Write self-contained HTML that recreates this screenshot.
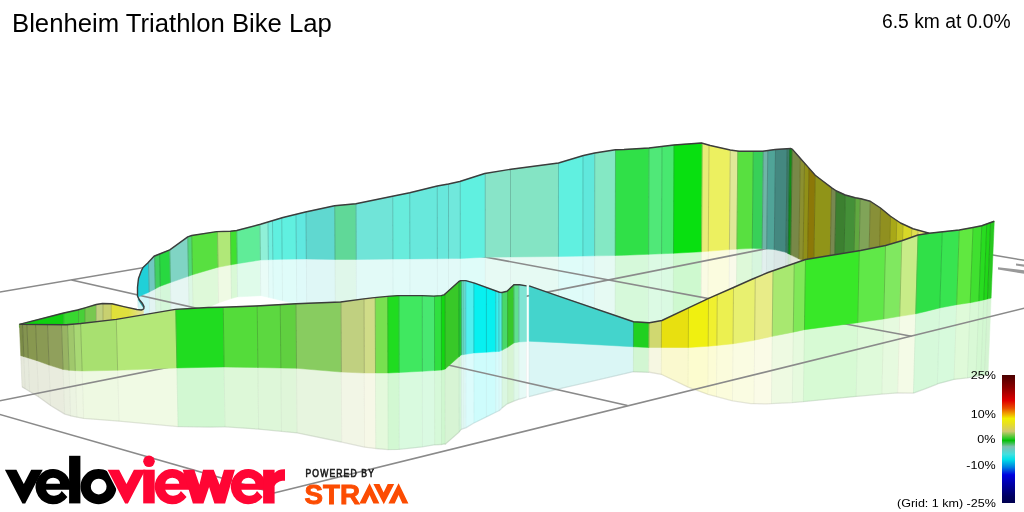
<!DOCTYPE html>
<html>
<head>
<meta charset="utf-8">
<title>Blenheim Triathlon Bike Lap</title>
<style>
html,body{margin:0;padding:0;background:#fff;}
body{width:1024px;height:512px;overflow:hidden;position:relative;font-family:"Liberation Sans",sans-serif;}
#chart{position:absolute;left:0;top:0;width:1024px;height:512px;will-change:transform;}
#title{position:absolute;left:12px;top:8px;will-change:transform;font-size:25.7px;line-height:30px;color:#000;white-space:nowrap;}
#stat{position:absolute;right:13.3px;top:11px;will-change:transform;font-size:19.3px;line-height:22px;color:#000;white-space:nowrap;}
.lg{position:absolute;right:28.6px;font-size:11.4px;line-height:12px;height:12px;transform:scaleX(1.10);transform-origin:100% 50%;color:#000;white-space:nowrap;text-align:right;}
#bar{position:absolute;left:1002px;top:375px;width:13px;height:128px;
background:linear-gradient(to bottom,#4a0000 0%,#8c0000 10%,#e00000 20%,#e85000 26%,#f0a000 30%,#f0f000 34%,#e8e020 38%,#d0c870 44%,#20c820 50%,#00c000 51%,#80c0b0 56%,#40e0e0 62%,#00e0e8 66%,#0080e0 72%,#0000e0 78%,#0000b0 84%,#000060 95%,#000050 100%);}
</style>
</head>
<body>
<svg id="chart" width="1024" height="512" viewBox="0 0 1024 512">
<defs><linearGradient id="ytip" gradientUnits="userSpaceOnUse" x1="111" y1="0" x2="143" y2="0"><stop offset="0" stop-color="#e0e038"/><stop offset="0.55" stop-color="#e0e040"/><stop offset="1" stop-color="#e4e0a0"/></linearGradient></defs>
<g id="backref">
<polygon points="137.74,297.14 138.94,296.61 141.84,295.32 143.64,294.52 148.43,292.39 149.19,292.02 149.88,321.84 149.11,321.78 144.29,321.53 142.42,319.64 139.38,314.71 137.99,307.03" fill="#d2f6f7" stroke="#d2f6f7" stroke-width="0.5"/>
<polygon points="149.19,292.02 154.74,289.13 155.33,288.82 156.07,321.62 155.47,322.01 149.88,321.84" fill="#e2f4f2" stroke="#e2f4f2" stroke-width="0.5"/>
<polygon points="155.33,288.82 160.3,286.16 161,318.31 156.07,321.62" fill="#d9f6df" stroke="#d9f6df" stroke-width="0.5"/>
<polygon points="160.3,286.16 170.47,282.54 171.14,315.19 161,318.31" fill="#d4f7d9" stroke="#d4f7d9" stroke-width="0.5"/>
<polygon points="170.47,282.54 188.47,276.24 189.2,315.58 171.14,315.19" fill="#e6f6f3" stroke="#e6f6f3" stroke-width="0.5"/>
<polygon points="188.47,276.24 192.45,274.77 193.16,314.03 189.2,315.58" fill="#dcf7e4" stroke="#dcf7e4" stroke-width="0.5"/>
<polygon points="192.45,274.77 217.3,267.4 218.04,267.26 218.58,302.93 217.84,303.19 193.16,314.03" fill="#def9d9" stroke="#def9d9" stroke-width="0.5"/>
<polygon points="218.04,267.26 230.97,264.83 231.43,298.42 218.58,302.93" fill="#effae4" stroke="#effae4" stroke-width="0.5"/>
<polygon points="230.97,264.83 237.19,263.68 237.63,296.86 231.43,298.42" fill="#d9f9d6" stroke="#d9f9d6" stroke-width="0.5"/>
<polygon points="237.19,263.68 260.4,260.02 260.79,295.65 237.63,296.86" fill="#dffbea" stroke="#dffbea" stroke-width="0.5"/>
<polygon points="260.4,260.02 260.9,259.99 268.39,259.74 268.79,297.47 261.29,295.72 260.79,295.65" fill="#e9fcf7" stroke="#e9fcf7" stroke-width="0.5"/>
<polygon points="268.39,259.74 272.89,259.59 273.28,298.52 268.79,297.47" fill="#e2fcf9" stroke="#e2fcf9" stroke-width="0.5"/>
<polygon points="272.89,259.59 282.13,259.28 282.52,300.68 273.28,298.52" fill="#dffcf9" stroke="#dffcf9" stroke-width="0.5"/>
<polygon points="282.13,259.28 283.38,259.25 296.37,259.1 296.73,303.88 283.77,300.99 282.52,300.68" fill="#dffcf9" stroke="#dffcf9" stroke-width="0.5"/>
<polygon points="296.37,259.1 305.85,259.01 306.35,259.01 306.7,306.14 306.2,306.01 296.73,303.88" fill="#dffaf9" stroke="#dffaf9" stroke-width="0.5"/>
<polygon points="306.35,259.01 334.9,259.5 335.05,259.5 335.34,313.26 335.19,313.25 306.7,306.14" fill="#dff7f6" stroke="#dff7f6" stroke-width="0.5"/>
<polygon points="335.05,259.5 356.14,259.49 356.24,259.49 356.47,315.25 356.38,315.23 335.34,313.26" fill="#dff7ea" stroke="#dff7ea" stroke-width="0.5"/>
<polygon points="356.24,259.49 392.66,259.1 392.91,259.1 393.06,321.95 392.81,321.9 356.47,315.25" fill="#e2faf7" stroke="#e2faf7" stroke-width="0.5"/>
<polygon points="392.91,259.1 409.87,258.95 409.99,325.14 393.06,321.95" fill="#e1fbf8" stroke="#e1fbf8" stroke-width="0.5"/>
<polygon points="409.87,258.95 437.32,258.7 437.39,331.4 409.99,325.14" fill="#e1faf8" stroke="#e1faf8" stroke-width="0.5"/>
<polygon points="437.32,258.7 448.55,258.6 448.61,333.2 437.39,331.4" fill="#e1faf8" stroke="#e1faf8" stroke-width="0.5"/>
<polygon points="448.55,258.6 459.79,258.5 460.29,258.47 460.32,335.61 459.82,335.5 448.61,333.2" fill="#e2faf8" stroke="#e2faf8" stroke-width="0.5"/>
<polygon points="460.29,258.47 484.76,257.25 485.26,257.24 485.27,341.07 484.77,341 460.32,335.61" fill="#dffcf9" stroke="#dffcf9" stroke-width="0.5"/>
<polygon points="485.26,257.24 510.5,256.99 510.5,344.65 485.27,341.07" fill="#e7faf4" stroke="#e7faf4" stroke-width="0.5"/>
<polygon points="510.5,256.99 511,256.98 558.46,256.5 558.43,350 511,344.72 510.5,344.65" fill="#e6faf3" stroke="#e6faf3" stroke-width="0.5"/>
<polygon points="558.46,256.5 582.91,256.07 582.82,356.49 558.43,350" fill="#dffcf9" stroke="#dffcf9" stroke-width="0.5"/>
<polygon points="582.91,256.07 583.41,256.06 594.63,255.87 594.5,358.73 583.32,356.63 582.82,356.49" fill="#dffaf8" stroke="#dffaf8" stroke-width="0.5"/>
<polygon points="594.63,255.87 615.3,255.5 615.1,361.26 594.5,358.73" fill="#e6faf3" stroke="#e6faf3" stroke-width="0.5"/>
<polygon points="615.3,255.5 623.77,255.25 648.65,254.31 648.3,360.61 623.54,361 615.1,361.26" fill="#d6f9da" stroke="#d6f9da" stroke-width="0.5"/>
<polygon points="648.65,254.31 661.58,253.77 661.15,361.1 648.3,360.61" fill="#dcfae4" stroke="#dcfae4" stroke-width="0.5"/>
<polygon points="661.58,253.77 673.5,253.27 673.01,361.54 661.15,361.1" fill="#dafae2" stroke="#dafae2" stroke-width="0.5"/>
<polygon points="673.5,253.27 700.82,251.79 701.56,251.75 700.87,360.36 700.13,360.63 673.01,361.54" fill="#cef9cf" stroke="#cef9cf" stroke-width="0.5"/>
<polygon points="701.56,251.75 708.28,251.22 707.56,357.64 700.87,360.36" fill="#fafbe4" stroke="#fafbe4" stroke-width="0.5"/>
<polygon points="708.28,251.22 709.52,251.12 729.42,249.56 728.58,350.21 708.79,357.13 707.56,357.64" fill="#fbfcdf" stroke="#fbfcdf" stroke-width="0.5"/>
<polygon points="729.42,249.56 736.88,249.15 735.99,348.55 728.58,350.21" fill="#f9faea" stroke="#f9faea" stroke-width="0.5"/>
<polygon points="736.88,249.15 738.12,249.09 752.26,248.34 751.25,347.28 737.22,348.28 735.99,348.55" fill="#def9d9" stroke="#def9d9" stroke-width="0.5"/>
<polygon points="752.26,248.34 761.68,248.73 762.17,248.76 761.07,348.55 760.58,348.39 751.25,347.28" fill="#d7f6de" stroke="#d7f6de" stroke-width="0.5"/>
<polygon points="762.17,248.76 766.67,249.04 765.52,349.93 761.07,348.55" fill="#e2f0ee" stroke="#e2f0ee" stroke-width="0.5"/>
<polygon points="766.67,249.04 774.04,249.51 774.28,249.55 773.04,352.12 772.79,352.01 765.52,349.93" fill="#dcedea" stroke="#dcedea" stroke-width="0.5"/>
<polygon points="774.28,249.55 785.83,252.27 784.42,358.4 773.04,352.12" fill="#dae7e6" stroke="#dae7e6" stroke-width="0.5"/>
<polygon points="785.83,252.27 788.28,253.64 786.83,361.33 784.42,358.4" fill="#d8e5e1" stroke="#d8e5e1" stroke-width="0.5"/>
<polygon points="788.28,253.64 789.46,254.25 790.75,254.92 789.26,363.24 787.98,362.64 786.83,361.33" fill="#cfe8d1" stroke="#cfe8d1" stroke-width="0.5"/>
<polygon points="790.75,254.92 791.05,255.07 798.79,258.81 797.29,361.93 789.55,363.37 789.26,363.24" fill="#e4e7da" stroke="#e4e7da" stroke-width="0.5"/>
<polygon points="798.79,258.81 803.04,260.6 801.54,360.63 797.29,361.93" fill="#e8e9d6" stroke="#e8e9d6" stroke-width="0.5"/>
<polygon points="803.04,260.6 807.54,262.39 806.05,359.03 801.54,360.63" fill="#e9e9d1" stroke="#e9e9d1" stroke-width="0.5"/>
<polygon points="807.54,262.39 813.81,264.87 812.33,356.72 806.05,359.03" fill="#e8e4ce" stroke="#e8e4ce" stroke-width="0.5"/>
<polygon points="813.81,264.87 820.29,267.43 830.01,271.28 828.47,357.01 818.78,356.84 812.33,356.72" fill="#e9ead1" stroke="#e9ead1" stroke-width="0.5"/>
<polygon points="830.01,271.28 830.6,271.52 834.49,273.06 832.94,357.5 829.07,357.02 828.47,357.01" fill="#e4e7dc" stroke="#e4e7dc" stroke-width="0.5"/>
<polygon points="834.49,273.06 834.98,273.25 843.66,276.69 842.04,360.42 833.43,357.56 832.94,357.5" fill="#d8e6d6" stroke="#d8e6d6" stroke-width="0.5"/>
<polygon points="843.66,276.69 853.54,280.6 851.79,365.53 842.04,360.42" fill="#dae9d7" stroke="#dae9d7" stroke-width="0.5"/>
<polygon points="853.54,280.6 858.47,282.56 856.64,368.57 851.79,365.53" fill="#dfeed9" stroke="#dfeed9" stroke-width="0.5"/>
<polygon points="858.47,282.56 859.11,282.81 868.34,286.46 866.37,373.81 857.27,368.97 856.64,368.57" fill="#e6edde" stroke="#e6edde" stroke-width="0.5"/>
<polygon points="868.34,286.46 878.54,290.5 876.53,375.05 866.37,373.81" fill="#e7e9d7" stroke="#e7e9d7" stroke-width="0.5"/>
<polygon points="878.54,290.5 888.54,294.47 886.54,374.18 876.53,375.05" fill="#e9e9d2" stroke="#e9e9d2" stroke-width="0.5"/>
<polygon points="888.54,294.47 894.77,296.93 892.76,374.6 886.54,374.18" fill="#eeeed1" stroke="#eeeed1" stroke-width="0.5"/>
<polygon points="894.77,296.93 898.51,298.41 900.99,299.4 898.95,375.56 896.49,374.85 892.76,374.6" fill="#f2f2d2" stroke="#f2f2d2" stroke-width="0.5"/>
<polygon points="900.99,299.4 909.66,302.83 907.56,378.04 898.95,375.56" fill="#f7f7d4" stroke="#f7f7d4" stroke-width="0.5"/>
<polygon points="909.66,302.83 910.9,303.32 915.83,305.27 913.66,380.71 908.79,378.39 907.56,378.04" fill="#f9f9dc" stroke="#f9f9dc" stroke-width="0.5"/>
<polygon points="915.83,305.27 926.92,309.67 924.59,386.08 913.66,380.71" fill="#fafae2" stroke="#fafae2" stroke-width="0.5"/>
</g>
<g stroke="#000" stroke-opacity="0.06" stroke-width="0.8">
<line x1="137.74" y1="297.14" x2="137.99" y2="307.03"/>
<line x1="149.19" y1="292.02" x2="149.88" y2="321.84"/>
<line x1="155.33" y1="288.82" x2="156.07" y2="321.62"/>
<line x1="160.3" y1="286.16" x2="161" y2="318.31"/>
<line x1="170.47" y1="282.54" x2="171.14" y2="315.19"/>
<line x1="188.47" y1="276.24" x2="189.2" y2="315.58"/>
<line x1="192.45" y1="274.77" x2="193.16" y2="314.03"/>
<line x1="218.04" y1="267.26" x2="218.58" y2="302.93"/>
<line x1="230.97" y1="264.83" x2="231.43" y2="298.42"/>
<line x1="237.19" y1="263.68" x2="237.63" y2="296.86"/>
<line x1="260.4" y1="260.02" x2="260.79" y2="295.65"/>
<line x1="268.39" y1="259.74" x2="268.79" y2="297.47"/>
<line x1="272.89" y1="259.59" x2="273.28" y2="298.52"/>
<line x1="282.13" y1="259.28" x2="282.52" y2="300.68"/>
<line x1="296.37" y1="259.1" x2="296.73" y2="303.88"/>
<line x1="306.35" y1="259.01" x2="306.7" y2="306.14"/>
<line x1="335.05" y1="259.5" x2="335.34" y2="313.26"/>
<line x1="356.24" y1="259.49" x2="356.47" y2="315.25"/>
<line x1="392.91" y1="259.1" x2="393.06" y2="321.95"/>
<line x1="409.87" y1="258.95" x2="409.99" y2="325.14"/>
<line x1="437.32" y1="258.7" x2="437.39" y2="331.4"/>
<line x1="448.55" y1="258.6" x2="448.61" y2="333.2"/>
<line x1="460.29" y1="258.47" x2="460.32" y2="335.61"/>
<line x1="485.26" y1="257.24" x2="485.27" y2="341.07"/>
<line x1="510.5" y1="256.99" x2="510.5" y2="344.65"/>
<line x1="558.46" y1="256.5" x2="558.43" y2="350"/>
<line x1="582.91" y1="256.07" x2="582.82" y2="356.49"/>
<line x1="594.63" y1="255.87" x2="594.5" y2="358.73"/>
<line x1="615.3" y1="255.5" x2="615.1" y2="361.26"/>
<line x1="648.65" y1="254.31" x2="648.3" y2="360.61"/>
<line x1="661.58" y1="253.77" x2="661.15" y2="361.1"/>
<line x1="673.5" y1="253.27" x2="673.01" y2="361.54"/>
<line x1="701.56" y1="251.75" x2="700.87" y2="360.36"/>
<line x1="708.28" y1="251.22" x2="707.56" y2="357.64"/>
<line x1="729.42" y1="249.56" x2="728.58" y2="350.21"/>
<line x1="736.88" y1="249.15" x2="735.99" y2="348.55"/>
<line x1="752.26" y1="248.34" x2="751.25" y2="347.28"/>
<line x1="762.17" y1="248.76" x2="761.07" y2="348.55"/>
<line x1="766.67" y1="249.04" x2="765.52" y2="349.93"/>
<line x1="774.28" y1="249.55" x2="773.04" y2="352.12"/>
<line x1="785.83" y1="252.27" x2="784.42" y2="358.4"/>
<line x1="788.28" y1="253.64" x2="786.83" y2="361.33"/>
<line x1="790.75" y1="254.92" x2="789.26" y2="363.24"/>
</g>
<g id="frontref">
<polygon points="20.73,355.64 23.85,356.59 25.2,388.76 22.05,386.88" fill="#e5e8da" stroke="#e5e8da" stroke-width="0.5"/>
<polygon points="23.85,356.59 28.28,357.95 29.66,391.44 25.2,388.76" fill="#e6eadc" stroke="#e6eadc" stroke-width="0.5"/>
<polygon points="28.28,357.95 37.03,360.64 38.47,396.77 29.66,391.44" fill="#e7eadc" stroke="#e7eadc" stroke-width="0.5"/>
<polygon points="37.03,360.64 49.03,365.08 50.56,405.55 38.47,396.77" fill="#e8ebdd" stroke="#e8ebdd" stroke-width="0.5"/>
<polygon points="49.03,365.08 63.09,369.39 64.67,414.07 50.56,405.55" fill="#e9ecde" stroke="#e9ecde" stroke-width="0.5"/>
<polygon points="63.09,369.39 67.83,370.11 69.08,370.27 70.66,415.9 69.4,415.47 64.67,414.07" fill="#eaf0e0" stroke="#eaf0e0" stroke-width="0.5"/>
<polygon points="69.08,370.27 75.31,370.64 76.88,417.18 70.66,415.9" fill="#ecf4e2" stroke="#ecf4e2" stroke-width="0.5"/>
<polygon points="75.31,370.64 82.15,370.99 83.69,418.47 76.88,417.18" fill="#eef7e3" stroke="#eef7e3" stroke-width="0.5"/>
<polygon points="82.15,370.99 117.64,370.29 119.04,421.19 83.69,418.47" fill="#eef9e2" stroke="#eef9e2" stroke-width="0.5"/>
<polygon points="117.64,370.29 176.56,367.97 176.91,367.96 178.07,426.54 177.72,426.53 119.04,421.19" fill="#f0fae4" stroke="#f0fae4" stroke-width="0.5"/>
<polygon points="176.91,367.96 208.97,367.28 223.38,367.01 224.12,367.02 225,426.83 224.25,426.78 209.93,427.07 178.07,426.54" fill="#d2f8d2" stroke="#d2f8d2" stroke-width="0.5"/>
<polygon points="224.12,367.02 256.71,367.51 257.9,367.54 258.6,429.14 257.41,429.03 225,426.83" fill="#ddf8d8" stroke="#ddf8d8" stroke-width="0.5"/>
<polygon points="257.9,367.54 280.85,367.97 281.44,431.33 258.6,429.14" fill="#def7d9" stroke="#def7d9" stroke-width="0.5"/>
<polygon points="280.85,367.97 296.53,368.29 297.05,432.89 281.44,431.33" fill="#dff6d9" stroke="#dff6d9" stroke-width="0.5"/>
<polygon points="296.53,368.29 340.96,372 341.36,372.02 341.72,442.09 341.32,441.99 297.05,432.89" fill="#e7f5df" stroke="#e7f5df" stroke-width="0.5"/>
<polygon points="341.36,372.02 364.04,373 364.28,373 364.57,447.13 364.32,447.1 341.72,442.09" fill="#f2f6e6" stroke="#f2f6e6" stroke-width="0.5"/>
<polygon points="364.28,373 374.65,373 375.5,373 375.74,448.48 374.9,448.4 364.57,447.13" fill="#f6f8e7" stroke="#f6f8e7" stroke-width="0.5"/>
<polygon points="375.5,373 387.71,372.98 387.96,372.97 388.16,449.56 387.92,449.56 375.74,448.48" fill="#e4f9dc" stroke="#e4f9dc" stroke-width="0.5"/>
<polygon points="387.96,372.97 398.27,372.51 399.17,372.46 399.34,449.33 398.45,449.42 388.16,449.56" fill="#d2f8d2" stroke="#d2f8d2" stroke-width="0.5"/>
<polygon points="399.17,372.46 422.01,371.26 422.36,371.24 422.46,446.87 422.11,446.93 399.34,449.33" fill="#d9fadf" stroke="#d9fadf" stroke-width="0.5"/>
<polygon points="422.36,371.24 433.83,370.53 434.58,370.48 434.66,444.91 433.91,444.95 422.46,446.87" fill="#dafae2" stroke="#dafae2" stroke-width="0.5"/>
<polygon points="434.58,370.48 441.32,370.06 441.46,370.05 441.53,444.54 441.38,444.52 434.66,444.91" fill="#d6f9d9" stroke="#d6f9d9" stroke-width="0.5"/>
<polygon points="441.46,370.05 443.96,369.43 445.16,369.03 445.22,444.23 444.02,443.96 441.53,444.54" fill="#cff7cf" stroke="#cff7cf" stroke-width="0.5"/>
<polygon points="445.16,369.03 458.94,356.83 458.97,432.17 445.22,444.23" fill="#d7f4d4" stroke="#d7f4d4" stroke-width="0.5"/>
<polygon points="458.94,356.83 460.78,355.19 461.43,354.93 461.47,429.26 460.82,429.78 458.97,432.17" fill="#d2f4d6" stroke="#d2f4d6" stroke-width="0.5"/>
<polygon points="461.43,354.93 463.93,354.53 463.96,428.46 461.47,429.26" fill="#dff7f1" stroke="#dff7f1" stroke-width="0.5"/>
<polygon points="463.93,354.53 465.78,354.24 465.81,427.87 463.96,428.46" fill="#e2faf9" stroke="#e2faf9" stroke-width="0.5"/>
<polygon points="465.78,354.24 473.92,352.97 473.94,423.02 465.81,427.87" fill="#dcfcfc" stroke="#dcfcfc" stroke-width="0.5"/>
<polygon points="473.92,352.97 474.52,352.94 486.41,352.18 486.41,416.9 474.53,422.77 473.94,423.02" fill="#cefcfc" stroke="#cefcfc" stroke-width="0.5"/>
<polygon points="486.41,352.18 495.75,351.58 495.76,412.29 486.41,416.9" fill="#cefcfc" stroke="#cefcfc" stroke-width="0.5"/>
<polygon points="495.75,351.58 498.9,351.38 498.9,410.74 495.76,412.29" fill="#d7fcfc" stroke="#d7fcfc" stroke-width="0.5"/>
<polygon points="498.9,351.38 499.5,351.35 502,350.25 502,408 499.5,410.44 498.9,410.74" fill="#dcfafa" stroke="#dcfafa" stroke-width="0.5"/>
<polygon points="502,350.25 507,347.62 507.6,347.25 507.6,403.81 507,404 502,408" fill="#daf7e1" stroke="#daf7e1" stroke-width="0.5"/>
<polygon points="507.6,347.25 513.9,342.92 513.9,401.09 507.6,403.81" fill="#d7f4d4" stroke="#d7f4d4" stroke-width="0.5"/>
<polygon points="513.9,342.92 518.9,341.98 518.9,399.2 513.9,401.09" fill="#dff9e9" stroke="#dff9e9" stroke-width="0.5"/>
<polygon points="518.9,341.98 519.5,341.94 526.5,341.5 526.6,341.49 526.6,397.08 526.5,397.1 519.5,399.13 518.9,399.2" fill="#e6faf6" stroke="#e6faf6" stroke-width="0.5"/>
<polygon points="526.6,341.49 529.1,341.25 529.09,396.61 526.6,397.08" fill="#ffffff" stroke="#ffffff" stroke-width="0.5"/>
<polygon points="529.1,341.25 559.98,342.67 633.44,346.75 633.37,371.74 559.96,388.74 529.09,396.61" fill="#daf6f5" stroke="#daf6f5" stroke-width="0.5"/>
<polygon points="633.44,346.75 648.92,347.5 648.84,372.28 633.37,371.74" fill="#d2f6d2" stroke="#d2f6d2" stroke-width="0.5"/>
<polygon points="648.92,347.5 649.42,347.5 661.39,347.5 661.29,374.43 649.34,372.25 648.84,372.28" fill="#f6f7e2" stroke="#f6f7e2" stroke-width="0.5"/>
<polygon points="661.39,347.5 661.79,347.5 688.28,347.5 688.07,387.1 661.69,374.5 661.29,374.43" fill="#faf9cf" stroke="#faf9cf" stroke-width="0.5"/>
<polygon points="688.28,347.5 707.78,346.3 708.18,346.27 707.85,394.26 707.46,394.13 688.07,387.1" fill="#fcfccf" stroke="#fcfccf" stroke-width="0.5"/>
<polygon points="708.18,346.27 716.88,345.41 716.5,396.54 707.85,394.26" fill="#fcfcd6" stroke="#fcfcd6" stroke-width="0.5"/>
<polygon points="716.88,345.41 733.02,343.8 732.53,400.77 716.5,396.54" fill="#fbfcdc" stroke="#fbfcdc" stroke-width="0.5"/>
<polygon points="733.02,343.8 751.38,340.86 754.61,340.14 753.95,403.64 750.75,403.61 732.53,400.77" fill="#fafce2" stroke="#fafce2" stroke-width="0.5"/>
<polygon points="754.61,340.14 767.26,337.43 772.22,336.36 771.42,403.6 766.49,403.93 753.95,403.64" fill="#fafbe7" stroke="#fafbe7" stroke-width="0.5"/>
<polygon points="772.22,336.36 793.29,332.14 792.31,402.6 771.42,403.6" fill="#eefae2" stroke="#eefae2" stroke-width="0.5"/>
<polygon points="793.29,332.14 804.44,329.68 803.36,401.61 792.31,402.6" fill="#e6fade" stroke="#e6fade" stroke-width="0.5"/>
<polygon points="804.44,329.68 857.73,322.66 856.18,396.42 803.36,401.61" fill="#d7fad4" stroke="#d7fad4" stroke-width="0.5"/>
<polygon points="857.73,322.66 858.97,322.5 883.71,318.97 881.87,394.05 857.4,396.31 856.18,396.42" fill="#dffada" stroke="#dffada" stroke-width="0.5"/>
<polygon points="883.71,318.97 899.74,316.33 897.71,392.89 881.87,394.05" fill="#e6fadf" stroke="#e6fadf" stroke-width="0.5"/>
<polygon points="899.74,316.33 915.72,313.87 913.44,393.04 897.71,392.89" fill="#f4fbe7" stroke="#f4fbe7" stroke-width="0.5"/>
<polygon points="915.72,313.87 926.88,311.15 939.78,307.92 937.32,384.02 924.5,389.05 913.44,393.04" fill="#d6f9da" stroke="#d6f9da" stroke-width="0.5"/>
<polygon points="939.78,307.92 940.53,307.74 956.63,304.7 954.02,379.41 938.06,383.73 937.32,384.02" fill="#d7fadc" stroke="#d7fadc" stroke-width="0.5"/>
<polygon points="956.63,304.7 970.2,302.69 967.41,377.87 954.02,379.41" fill="#dffad9" stroke="#dffad9" stroke-width="0.5"/>
<polygon points="970.2,302.69 978.84,301.03 975.94,376.3 967.41,377.87" fill="#d9f9d6" stroke="#d9f9d6" stroke-width="0.5"/>
<polygon points="978.84,301.03 983.75,299.89 980.76,375.82 975.94,376.3" fill="#d4f8d2" stroke="#d4f8d2" stroke-width="0.5"/>
<polygon points="983.75,299.89 987.44,298.99 984.38,375.37 980.76,375.82" fill="#d2f7d1" stroke="#d2f7d1" stroke-width="0.5"/>
<polygon points="987.44,298.99 991.12,298.09 988,374.93 984.38,375.37" fill="#d4f4d2" stroke="#d4f4d2" stroke-width="0.5"/>
</g>
<g stroke="#000" stroke-opacity="0.06" stroke-width="0.8">
<line x1="20.73" y1="355.64" x2="22.05" y2="386.88"/>
<line x1="23.85" y1="356.59" x2="25.2" y2="388.76"/>
<line x1="28.28" y1="357.95" x2="29.66" y2="391.44"/>
<line x1="37.03" y1="360.64" x2="38.47" y2="396.77"/>
<line x1="49.03" y1="365.08" x2="50.56" y2="405.55"/>
<line x1="63.09" y1="369.39" x2="64.67" y2="414.07"/>
<line x1="69.08" y1="370.27" x2="70.66" y2="415.9"/>
<line x1="75.31" y1="370.64" x2="76.88" y2="417.18"/>
<line x1="82.15" y1="370.99" x2="83.69" y2="418.47"/>
<line x1="117.64" y1="370.29" x2="119.04" y2="421.19"/>
<line x1="176.91" y1="367.96" x2="178.07" y2="426.54"/>
<line x1="224.12" y1="367.02" x2="225" y2="426.83"/>
<line x1="257.9" y1="367.54" x2="258.6" y2="429.14"/>
<line x1="280.85" y1="367.97" x2="281.44" y2="431.33"/>
<line x1="296.53" y1="368.29" x2="297.05" y2="432.89"/>
<line x1="341.36" y1="372.02" x2="341.72" y2="442.09"/>
<line x1="364.28" y1="373" x2="364.57" y2="447.13"/>
<line x1="375.5" y1="373" x2="375.74" y2="448.48"/>
<line x1="387.96" y1="372.97" x2="388.16" y2="449.56"/>
<line x1="399.17" y1="372.46" x2="399.34" y2="449.33"/>
<line x1="422.36" y1="371.24" x2="422.46" y2="446.87"/>
<line x1="434.58" y1="370.48" x2="434.66" y2="444.91"/>
<line x1="441.46" y1="370.05" x2="441.53" y2="444.54"/>
<line x1="445.16" y1="369.03" x2="445.22" y2="444.23"/>
<line x1="458.94" y1="356.83" x2="458.97" y2="432.17"/>
<line x1="461.43" y1="354.93" x2="461.47" y2="429.26"/>
<line x1="463.93" y1="354.53" x2="463.96" y2="428.46"/>
<line x1="465.78" y1="354.24" x2="465.81" y2="427.87"/>
<line x1="473.92" y1="352.97" x2="473.94" y2="423.02"/>
<line x1="486.41" y1="352.18" x2="486.41" y2="416.9"/>
<line x1="495.75" y1="351.58" x2="495.76" y2="412.29"/>
<line x1="498.9" y1="351.38" x2="498.9" y2="410.74"/>
<line x1="502" y1="350.25" x2="502" y2="408"/>
<line x1="507.6" y1="347.25" x2="507.6" y2="403.81"/>
<line x1="513.9" y1="342.92" x2="513.9" y2="401.09"/>
<line x1="518.9" y1="341.98" x2="518.9" y2="399.2"/>
<line x1="526.6" y1="341.49" x2="526.6" y2="397.08"/>
<line x1="529.1" y1="341.25" x2="529.09" y2="396.61"/>
<line x1="633.44" y1="346.75" x2="633.37" y2="371.74"/>
<line x1="648.92" y1="347.5" x2="648.84" y2="372.28"/>
<line x1="661.39" y1="347.5" x2="661.29" y2="374.43"/>
<line x1="688.28" y1="347.5" x2="688.07" y2="387.1"/>
<line x1="708.18" y1="346.27" x2="707.85" y2="394.26"/>
<line x1="716.88" y1="345.41" x2="716.5" y2="396.54"/>
<line x1="733.02" y1="343.8" x2="732.53" y2="400.77"/>
<line x1="754.61" y1="340.14" x2="753.95" y2="403.64"/>
<line x1="772.22" y1="336.36" x2="771.42" y2="403.6"/>
<line x1="793.29" y1="332.14" x2="792.31" y2="402.6"/>
<line x1="804.44" y1="329.68" x2="803.36" y2="401.61"/>
<line x1="857.73" y1="322.66" x2="856.18" y2="396.42"/>
<line x1="883.71" y1="318.97" x2="881.87" y2="394.05"/>
<line x1="899.74" y1="316.33" x2="897.71" y2="392.89"/>
<line x1="915.72" y1="313.87" x2="913.44" y2="393.04"/>
<line x1="939.78" y1="307.92" x2="937.32" y2="384.02"/>
<line x1="956.63" y1="304.7" x2="954.02" y2="379.41"/>
<line x1="970.2" y1="302.69" x2="967.41" y2="377.87"/>
<line x1="978.84" y1="301.03" x2="975.94" y2="376.3"/>
<line x1="983.75" y1="299.89" x2="980.76" y2="375.82"/>
<line x1="987.44" y1="298.99" x2="984.38" y2="375.37"/>
</g>
<polyline points="22.05,386.88 25.2,388.76 29.66,391.44 38.47,396.77 50.56,405.55 64.67,414.07 69.4,415.47 70.66,415.9 76.88,417.18 83.69,418.47 119.04,421.19 177.72,426.53 178.07,426.54 209.93,427.07 224.25,426.78 225,426.83 257.41,429.03 258.6,429.14 281.44,431.33 297.05,432.89 341.32,441.99 341.72,442.09 364.32,447.1 364.57,447.13 374.9,448.4 375.74,448.48 387.92,449.56 388.16,449.56 398.45,449.42 399.34,449.33 422.11,446.93 422.46,446.87 433.91,444.95 434.66,444.91 441.38,444.52 441.53,444.54 444.02,443.96 445.22,444.23 458.97,432.17 460.82,429.78 461.47,429.26 463.96,428.46 465.81,427.87 473.94,423.02 474.53,422.77 486.41,416.9 495.76,412.29 498.9,410.74 499.5,410.44 502,408 507,404 507.6,403.81 513.9,401.09 518.9,399.2 519.5,399.13 526.5,397.1 526.6,397.08" fill="none" stroke="#3c3c3c" stroke-opacity="0.12" stroke-width="1.3" stroke-linejoin="round"/>
<polyline points="529.09,396.61 559.96,388.74 633.37,371.74 648.84,372.28 649.34,372.25 661.29,374.43 661.69,374.5 688.07,387.1 707.46,394.13 707.85,394.26 716.5,396.54 732.53,400.77 750.75,403.61 753.95,403.64 766.49,403.93 771.42,403.6 792.31,402.6 803.36,401.61 856.18,396.42 857.4,396.31 881.87,394.05 897.71,392.89 913.44,393.04 924.5,389.05 937.32,384.02 938.06,383.73 954.02,379.41 967.41,377.87 975.94,376.3 980.76,375.82 984.38,375.37 988,374.93" fill="none" stroke="#3c3c3c" stroke-opacity="0.12" stroke-width="1.3" stroke-linejoin="round"/>
<polygon points="526.6,285.9 529.1,285.9 529.1,341.25 526.6,341.49" fill="#ffffff" stroke="#ffffff" stroke-width="0.5"/>
<g stroke="#8a8a8a" stroke-width="1.6" fill="none" stroke-linecap="butt">
<line x1="-10" y1="293.7" x2="611" y2="188.3"/>
<line x1="-10" y1="402.7" x2="853" y2="231.4"/>
<line x1="274" y1="493" x2="1030" y2="306.8"/>
<line x1="-10" y1="411.6" x2="274" y2="493"/>
<line x1="71.5" y1="280" x2="627.5" y2="405.5"/>
<line x1="359.6" y1="233.7" x2="911.5" y2="336.25"/>
<line x1="611" y1="190.6" x2="1030" y2="261.3"/>
</g>
<polygon points="998,267.2 1024,270.2 1024,273.8 998,269.5" fill="#999"/>
<polygon points="1016,263.4 1024,264.5 1024,266.8 1016,265.5" fill="#999"/>
<g id="back">
<polygon points="137.5,287.25 138.5,278.5 141.25,271 143,267.5 147.75,263 148.5,262.19 149.19,292.02 148.43,292.39 143.64,294.52 141.84,295.32 138.94,296.61 137.74,297.14" fill="#20d0d8" stroke="#20d0d8" stroke-width="0.5"/>
<polygon points="148.5,262.19 154,256.25 154.6,256.01 155.33,288.82 154.74,289.13 149.19,292.02" fill="#70c8c0" stroke="#70c8c0" stroke-width="0.5"/>
<polygon points="154.6,256.01 159.6,254 160.3,286.16 155.33,288.82" fill="#40d060" stroke="#40d060" stroke-width="0.5"/>
<polygon points="159.6,254 169.8,249.9 170.47,282.54 160.3,286.16" fill="#28d840" stroke="#28d840" stroke-width="0.5"/>
<polygon points="169.8,249.9 187.75,236.9 188.47,276.24 170.47,282.54" fill="#80d4c4" stroke="#80d4c4" stroke-width="0.5"/>
<polygon points="187.75,236.9 191.75,235.5 192.45,274.77 188.47,276.24" fill="#50d878" stroke="#50d878" stroke-width="0.5"/>
<polygon points="191.75,235.5 216.75,231.6 217.5,231.58 218.04,267.26 217.3,267.4 192.45,274.77" fill="#58e040" stroke="#58e040" stroke-width="0.5"/>
<polygon points="217.5,231.58 230.5,231.25 230.97,264.83 218.04,267.26" fill="#b0e878" stroke="#b0e878" stroke-width="0.5"/>
<polygon points="230.5,231.25 236.75,230.5 237.19,263.68 230.97,264.83" fill="#40e030" stroke="#40e030" stroke-width="0.5"/>
<polygon points="236.75,230.5 260,224.38 260.4,260.02 237.19,263.68" fill="#60ec98" stroke="#60ec98" stroke-width="0.5"/>
<polygon points="260,224.38 260.5,224.25 268,222 268.39,259.74 260.9,259.99 260.4,260.02" fill="#90f0d8" stroke="#90f0d8" stroke-width="0.5"/>
<polygon points="268,222 272.5,220.65 272.89,259.59 268.39,259.74" fill="#70f0e0" stroke="#70f0e0" stroke-width="0.5"/>
<polygon points="272.5,220.65 281.75,217.88 282.13,259.28 272.89,259.59" fill="#60f0e0" stroke="#60f0e0" stroke-width="0.5"/>
<polygon points="281.75,217.88 283,217.5 296,214.32 296.37,259.1 283.38,259.25 282.13,259.28" fill="#60f0e0" stroke="#60f0e0" stroke-width="0.5"/>
<polygon points="296,214.32 305.5,212 306,211.89 306.35,259.01 305.85,259.01 296.37,259.1" fill="#60e8e0" stroke="#60e8e0" stroke-width="0.5"/>
<polygon points="306,211.89 334.6,205.75 334.75,205.74 335.05,259.5 334.9,259.5 306.35,259.01" fill="#60d8d0" stroke="#60d8d0" stroke-width="0.5"/>
<polygon points="334.75,205.74 355.9,203.75 356,203.73 356.24,259.49 356.14,259.49 335.05,259.5" fill="#60d898" stroke="#60d898" stroke-width="0.5"/>
<polygon points="356,203.73 392.5,196.3 392.75,196.25 392.91,259.1 392.66,259.1 356.24,259.49" fill="#70e4d8" stroke="#70e4d8" stroke-width="0.5"/>
<polygon points="392.75,196.25 409.75,192.75 409.87,258.95 392.91,259.1" fill="#68ecdc" stroke="#68ecdc" stroke-width="0.5"/>
<polygon points="409.75,192.75 437.25,186 437.32,258.7 409.87,258.95" fill="#68e8dc" stroke="#68e8dc" stroke-width="0.5"/>
<polygon points="437.25,186 448.5,184 448.55,258.6 437.32,258.7" fill="#68e8dc" stroke="#68e8dc" stroke-width="0.5"/>
<polygon points="448.5,184 459.75,181.5 460.25,181.34 460.29,258.47 459.79,258.5 448.55,258.6" fill="#70e8dc" stroke="#70e8dc" stroke-width="0.5"/>
<polygon points="460.25,181.34 484.75,173.5 485.25,173.42 485.26,257.24 484.76,257.25 460.29,258.47" fill="#60f0e0" stroke="#60f0e0" stroke-width="0.5"/>
<polygon points="485.25,173.42 510.5,169.33 510.5,256.99 485.26,257.24" fill="#88e4c8" stroke="#88e4c8" stroke-width="0.5"/>
<polygon points="510.5,169.33 511,169.25 558.5,163 558.46,256.5 511,256.98 510.5,256.99" fill="#84e4c4" stroke="#84e4c4" stroke-width="0.5"/>
<polygon points="558.5,163 583,155.65 582.91,256.07 558.46,256.5" fill="#60f0e0" stroke="#60f0e0" stroke-width="0.5"/>
<polygon points="583,155.65 583.5,155.5 594.75,153 594.63,255.87 583.41,256.06 582.91,256.07" fill="#60e8dc" stroke="#60e8dc" stroke-width="0.5"/>
<polygon points="594.75,153 615.5,149.75 615.3,255.5 594.63,255.87" fill="#84e8c4" stroke="#84e8c4" stroke-width="0.5"/>
<polygon points="615.5,149.75 624,149.5 649,148 648.65,254.31 623.77,255.25 615.3,255.5" fill="#30e048" stroke="#30e048" stroke-width="0.5"/>
<polygon points="649,148 662,146.44 661.58,253.77 648.65,254.31" fill="#50e878" stroke="#50e878" stroke-width="0.5"/>
<polygon points="662,146.44 674,145 673.5,253.27 661.58,253.77" fill="#48e870" stroke="#48e870" stroke-width="0.5"/>
<polygon points="674,145 701.5,143 702.25,143.21 701.56,251.75 700.82,251.79 673.5,253.27" fill="#08e010" stroke="#08e010" stroke-width="0.5"/>
<polygon points="702.25,143.21 709,145.14 708.28,251.22 701.56,251.75" fill="#e8ec78" stroke="#e8ec78" stroke-width="0.5"/>
<polygon points="709,145.14 710.25,145.5 730.25,150 729.42,249.56 709.52,251.12 708.28,251.22" fill="#ecf060" stroke="#ecf060" stroke-width="0.5"/>
<polygon points="730.25,150 737.75,151.07 736.88,249.15 729.42,249.56" fill="#e0e898" stroke="#e0e898" stroke-width="0.5"/>
<polygon points="737.75,151.07 739,151.25 753.25,151.25 752.26,248.34 738.12,249.09 736.88,249.15" fill="#58e040" stroke="#58e040" stroke-width="0.5"/>
<polygon points="753.25,151.25 762.75,151.25 763.25,151.18 762.17,248.76 761.68,248.73 752.26,248.34" fill="#38d058" stroke="#38d058" stroke-width="0.5"/>
<polygon points="763.25,151.18 767.8,150.54 766.67,249.04 762.17,248.76" fill="#70b4a8" stroke="#70b4a8" stroke-width="0.5"/>
<polygon points="767.8,150.54 775.25,149.5 775.5,149.48 774.28,249.55 774.04,249.51 766.67,249.04" fill="#50a498" stroke="#50a498" stroke-width="0.5"/>
<polygon points="775.5,149.48 787.2,148.74 785.83,252.27 774.28,249.55" fill="#448880" stroke="#448880" stroke-width="0.5"/>
<polygon points="787.2,148.74 789.7,148.58 788.28,253.64 785.83,252.27" fill="#3c7c68" stroke="#3c7c68" stroke-width="0.5"/>
<polygon points="789.7,148.58 790.9,148.5 792.2,149.23 790.75,254.92 789.46,254.25 788.28,253.64" fill="#108c18" stroke="#108c18" stroke-width="0.5"/>
<polygon points="792.2,149.23 792.5,149.4 800.25,158.2 798.79,258.81 791.05,255.07 790.75,254.92" fill="#788848" stroke="#788848" stroke-width="0.5"/>
<polygon points="800.25,158.2 804.5,163.01 803.04,260.6 798.79,258.81" fill="#8c9030" stroke="#8c9030" stroke-width="0.5"/>
<polygon points="804.5,163.01 809,168.1 807.54,262.39 803.04,260.6" fill="#909018" stroke="#909018" stroke-width="0.5"/>
<polygon points="809,168.1 815.25,175.25 813.81,264.87 807.54,262.39" fill="#8c7808" stroke="#8c7808" stroke-width="0.5"/>
<polygon points="815.25,175.25 821.75,180.2 831.5,187.64 830.01,271.28 820.29,267.43 813.81,264.87" fill="#909418" stroke="#909418" stroke-width="0.5"/>
<polygon points="831.5,187.64 832.1,188.1 836,190.67 834.49,273.06 830.6,271.52 830.01,271.28" fill="#788850" stroke="#788850" stroke-width="0.5"/>
<polygon points="836,190.67 836.5,191 845.25,195 843.66,276.69 834.98,273.25 834.49,273.06" fill="#3c8030" stroke="#3c8030" stroke-width="0.5"/>
<polygon points="845.25,195 855.25,197.75 853.54,280.6 843.66,276.69" fill="#449038" stroke="#449038" stroke-width="0.5"/>
<polygon points="855.25,197.75 860.25,198.63 858.47,282.56 853.54,280.6" fill="#60a840" stroke="#60a840" stroke-width="0.5"/>
<polygon points="860.25,198.63 860.9,198.75 870.25,201.25 868.34,286.46 859.11,282.81 858.47,282.56" fill="#80a458" stroke="#80a458" stroke-width="0.5"/>
<polygon points="870.25,201.25 880.5,208 878.54,290.5 868.34,286.46" fill="#889038" stroke="#889038" stroke-width="0.5"/>
<polygon points="880.5,208 890.5,216.25 888.54,294.47 878.54,290.5" fill="#909020" stroke="#909020" stroke-width="0.5"/>
<polygon points="890.5,216.25 896.75,220.47 894.77,296.93 888.54,294.47" fill="#a8a818" stroke="#a8a818" stroke-width="0.5"/>
<polygon points="896.75,220.47 900.5,223 903,224.15 900.99,299.4 898.51,298.41 894.77,296.93" fill="#c0c020" stroke="#c0c020" stroke-width="0.5"/>
<polygon points="903,224.15 911.75,228.18 909.66,302.83 900.99,299.4" fill="#d8d828" stroke="#d8d828" stroke-width="0.5"/>
<polygon points="911.75,228.18 913,228.75 918,230.13 915.83,305.27 910.9,303.32 909.66,302.83" fill="#e0e050" stroke="#e0e050" stroke-width="0.5"/>
<polygon points="918,230.13 929.25,233.25 926.92,309.67 915.83,305.27" fill="#e8e870" stroke="#e8e870" stroke-width="0.5"/>
</g>
<polygon points="137.5,296.5 139.4,299.75 142.5,303.5 144,306.6 143.6,308.5 141,304.5 138.4,300.5" fill="#2a9aa0"/>
<g stroke-opacity="0.75" stroke-width="0.9">
<line x1="148.5" y1="262.19" x2="149.19" y2="292.02" stroke="#359797"/>
<line x1="154.6" y1="256.01" x2="155.33" y2="288.82" stroke="#41976b"/>
<line x1="159.6" y1="254" x2="160.3" y2="286.16" stroke="#269d3b"/>
<line x1="169.8" y1="249.9" x2="170.47" y2="282.54" stroke="#3e9e60"/>
<line x1="187.75" y1="236.9" x2="188.47" y2="276.24" stroke="#4d9e75"/>
<line x1="191.75" y1="235.5" x2="192.45" y2="274.77" stroke="#3ea344"/>
<line x1="217.5" y1="231.58" x2="218.04" y2="267.26" stroke="#62a944"/>
<line x1="230.5" y1="231.25" x2="230.97" y2="264.83" stroke="#59a93e"/>
<line x1="236.75" y1="230.5" x2="237.19" y2="263.68" stroke="#3baa4a"/>
<line x1="260" y1="224.38" x2="260.4" y2="260.02" stroke="#59b088"/>
<line x1="268" y1="222" x2="268.39" y2="259.74" stroke="#5fb2a3"/>
<line x1="272.5" y1="220.65" x2="272.89" y2="259.59" stroke="#4db2a6"/>
<line x1="281.75" y1="217.88" x2="282.13" y2="259.28" stroke="#47b2a6"/>
<line x1="296" y1="214.32" x2="296.37" y2="259.1" stroke="#47afa6"/>
<line x1="306" y1="211.89" x2="306.35" y2="259.01" stroke="#47a6a0"/>
<line x1="334.75" y1="205.74" x2="335.05" y2="259.5" stroke="#47a085"/>
<line x1="356" y1="203.73" x2="356.24" y2="259.49" stroke="#4da488"/>
<line x1="392.75" y1="196.25" x2="392.91" y2="259.1" stroke="#50aca1"/>
<line x1="409.75" y1="192.75" x2="409.87" y2="258.95" stroke="#4dada3"/>
<line x1="437.25" y1="186" x2="437.32" y2="258.7" stroke="#4daca3"/>
<line x1="448.5" y1="184" x2="448.55" y2="258.6" stroke="#50aca3"/>
<line x1="460.25" y1="181.34" x2="460.29" y2="258.47" stroke="#4dafa4"/>
<line x1="485.25" y1="173.42" x2="485.26" y2="257.24" stroke="#56ad9d"/>
<line x1="510.5" y1="169.33" x2="510.5" y2="256.99" stroke="#63a993"/>
<line x1="558.5" y1="163" x2="558.46" y2="256.5" stroke="#54ad9b"/>
<line x1="583" y1="155.65" x2="582.91" y2="256.07" stroke="#47afa4"/>
<line x1="594.75" y1="153" x2="594.63" y2="255.87" stroke="#54ac9a"/>
<line x1="615.5" y1="149.75" x2="615.3" y2="255.5" stroke="#43a963"/>
<line x1="649" y1="148" x2="648.65" y2="254.31" stroke="#2fa947"/>
<line x1="662" y1="146.44" x2="661.58" y2="253.77" stroke="#38ac56"/>
<line x1="674" y1="145" x2="673.5" y2="253.27" stroke="#1ea92f"/>
<line x1="702.25" y1="143.21" x2="701.56" y2="251.75" stroke="#59aa32"/>
<line x1="709" y1="145.14" x2="708.28" y2="251.22" stroke="#adb050"/>
<line x1="730.25" y1="150" x2="729.42" y2="249.56" stroke="#aaaf5c"/>
<line x1="737.75" y1="151.07" x2="736.88" y2="249.15" stroke="#73a950"/>
<line x1="753.25" y1="151.25" x2="752.26" y2="248.34" stroke="#35a038"/>
<line x1="763.25" y1="151.18" x2="762.17" y2="248.76" stroke="#3e905f"/>
<line x1="767.8" y1="150.54" x2="766.67" y2="249.04" stroke="#477f76"/>
<line x1="775.5" y1="149.48" x2="774.28" y2="249.55" stroke="#376f68"/>
<line x1="787.2" y1="148.74" x2="785.83" y2="252.27" stroke="#2f6056"/>
<line x1="789.7" y1="148.58" x2="788.28" y2="253.64" stroke="#1c622f"/>
<line x1="792.2" y1="149.23" x2="790.75" y2="254.92" stroke="#326624"/>
<line x1="800.25" y1="158.2" x2="798.79" y2="258.81" stroke="#60682c"/>
<line x1="804.5" y1="163.01" x2="803.04" y2="260.6" stroke="#696b1b"/>
<line x1="809" y1="168.1" x2="807.54" y2="262.39" stroke="#69620c"/>
<line x1="815.25" y1="175.25" x2="813.81" y2="264.87" stroke="#69630c"/>
<line x1="831.5" y1="187.64" x2="830.01" y2="271.28" stroke="#626926"/>
<line x1="836" y1="190.67" x2="834.49" y2="273.06" stroke="#43622f"/>
<line x1="845.25" y1="195" x2="843.66" y2="276.69" stroke="#2f6526"/>
<line x1="855.25" y1="197.75" x2="853.54" y2="280.6" stroke="#3d732c"/>
<line x1="860.25" y1="198.63" x2="858.47" y2="282.56" stroke="#537b38"/>
<line x1="870.25" y1="201.25" x2="868.34" y2="286.46" stroke="#627235"/>
<line x1="880.5" y1="208" x2="878.54" y2="290.5" stroke="#686b21"/>
<line x1="890.5" y1="216.25" x2="888.54" y2="294.47" stroke="#737315"/>
<line x1="896.75" y1="220.47" x2="894.77" y2="296.93" stroke="#858515"/>
<line x1="903" y1="224.15" x2="900.99" y2="299.4" stroke="#97971b"/>
<line x1="911.75" y1="228.18" x2="909.66" y2="302.83" stroke="#a3a32c"/>
<line x1="918" y1="230.13" x2="915.83" y2="305.27" stroke="#a9a947"/>
</g>
<polyline points="143.75,309.1 144,306.6 142.5,303.5 139.4,299.75 137.5,296 137.5,287.25 138.5,278.5 141.25,271 143,267.5 147.75,263 154,256.25 159.6,254 169.8,249.9 187.75,236.9 191.75,235.5 216.75,231.6 230.5,231.25 236.75,230.5 260.5,224.25 283,217.5 305.5,212 334.6,205.75 355.9,203.75 392.5,196.3 409.75,192.75 437.25,186 448.5,184 459.75,181.5 484.75,173.5 511,169.25 558.5,163 583.5,155.5 594.75,153 615.5,149.75 624,149.5 649,148 674,145 701.5,143 710.25,145.5 730.25,150 739,151.25 762.75,151.25 775.25,149.5 790.9,148.5 792.5,149.4 800.25,158.2 809,168.1 815.25,175.25 821.75,180.2 832.1,188.1 836.5,191 845.25,195 855.25,197.75 860.9,198.75 870.25,201.25 880.5,208 890.5,216.25 900.5,223 913,228.75 929.25,233.25" fill="none" stroke="#3c3c3c" stroke-width="1.4" stroke-linejoin="round"/>
<g id="inner">
<polygon points="19.4,324.4 63.75,313 63.75,327.73 19.4,327.4" fill="#10d010" stroke="#10d010" stroke-width="0.5"/>
<polygon points="63.75,313 77.5,310 78.5,309.72 78.5,326.68 77.5,326.77 63.75,327.73" fill="#38d830" stroke="#38d830" stroke-width="0.5"/>
<polygon points="78.5,309.72 85,307.9 85,325.99 78.5,326.68" fill="#48d038" stroke="#48d038" stroke-width="0.5"/>
<polygon points="85,307.9 96.25,304.5 96.25,324.7 85,325.99" fill="#78c850" stroke="#78c850" stroke-width="0.5"/>
<polygon points="96.25,304.5 102.5,303.5 103,303.51 103,323.92 102.5,323.98 96.25,324.7" fill="#c0d080" stroke="#c0d080" stroke-width="0.5"/>
<polygon points="103,303.51 111.25,303.73 111.25,322.98 103,323.92" fill="#c8d070" stroke="#c8d070" stroke-width="0.5"/>
<polygon points="111.25,303.73 111.9,303.75 123.75,306.6 136.9,309.5 141.25,310 143.5,309.19 143.5,317.79 141.25,318.17 136.9,318.91 123.75,321.13 111.9,322.9 111.25,322.98" fill="url(#ytip)" stroke="url(#ytip)" stroke-width="0.5"/>
</g>
<g stroke="#000" stroke-opacity="0.2" stroke-width="0.8">
<line x1="63.75" y1="313" x2="63.75" y2="324.73"/>
<line x1="78.5" y1="309.72" x2="78.5" y2="323.68"/>
<line x1="85" y1="307.9" x2="85" y2="322.99"/>
<line x1="96.25" y1="304.5" x2="96.25" y2="321.7"/>
<line x1="103" y1="303.51" x2="103" y2="320.92"/>
<line x1="111.25" y1="303.73" x2="111.25" y2="319.98"/>
</g>
<polyline points="19.4,324.4 63.75,313 77.5,310 85,307.9 96.25,304.5 102.5,303.5 111.9,303.75 123.75,306.6 136.9,309.5 141.25,310 143.75,309.1" fill="none" stroke="#3c3c3c" stroke-width="1.4" stroke-linejoin="round"/>
<g id="front">
<polygon points="19.4,324.4 22.5,324.42 23.85,356.59 20.73,355.64" fill="#7c8c48" stroke="#7c8c48" stroke-width="0.5"/>
<polygon points="22.5,324.42 26.9,324.46 28.28,357.95 23.85,356.59" fill="#849450" stroke="#849450" stroke-width="0.5"/>
<polygon points="26.9,324.46 35.6,324.52 37.03,360.64 28.28,357.95" fill="#889850" stroke="#889850" stroke-width="0.5"/>
<polygon points="35.6,324.52 47.5,324.61 49.03,365.08 37.03,360.64" fill="#8a9a54" stroke="#8a9a54" stroke-width="0.5"/>
<polygon points="47.5,324.61 61.5,324.71 63.09,369.39 49.03,365.08" fill="#90a05c" stroke="#90a05c" stroke-width="0.5"/>
<polygon points="61.5,324.71 66.25,324.75 67.5,324.64 69.08,370.27 67.83,370.11 63.09,369.39" fill="#98b464" stroke="#98b464" stroke-width="0.5"/>
<polygon points="67.5,324.64 73.75,324.1 75.31,370.64 69.08,370.27" fill="#a0c86c" stroke="#a0c86c" stroke-width="0.5"/>
<polygon points="73.75,324.1 80.6,323.5 82.15,370.99 75.31,370.64" fill="#a8d874" stroke="#a8d874" stroke-width="0.5"/>
<polygon points="80.6,323.5 116.25,319.4 117.64,370.29 82.15,370.99" fill="#a8e070" stroke="#a8e070" stroke-width="0.5"/>
<polygon points="116.25,319.4 175.4,309.4 175.75,309.38 176.91,367.96 176.56,367.97 117.64,370.29" fill="#b4e878" stroke="#b4e878" stroke-width="0.5"/>
<polygon points="175.75,309.38 208,307.5 222.5,307.25 223.25,307.22 224.12,367.02 223.38,367.01 208.97,367.28 176.91,367.96" fill="#20dc20" stroke="#20dc20" stroke-width="0.5"/>
<polygon points="223.25,307.22 256,306 257.2,305.93 257.9,367.54 256.71,367.51 224.12,367.02" fill="#54dc3a" stroke="#54dc3a" stroke-width="0.5"/>
<polygon points="257.2,305.93 280.25,304.61 280.85,367.97 257.9,367.54" fill="#5cd840" stroke="#5cd840" stroke-width="0.5"/>
<polygon points="280.25,304.61 296,303.7 296.53,368.29 280.85,367.97" fill="#60d040" stroke="#60d040" stroke-width="0.5"/>
<polygon points="296,303.7 340.6,302 341,301.95 341.36,372.02 340.96,372 296.53,368.29" fill="#88cc60" stroke="#88cc60" stroke-width="0.5"/>
<polygon points="341,301.95 363.75,298.9 364,298.87 364.28,373 364.04,373 341.36,372.02" fill="#c0d080" stroke="#c0d080" stroke-width="0.5"/>
<polygon points="364,298.87 374.4,297.6 375.25,297.52 375.5,373 374.65,373 364.28,373" fill="#d0dc88" stroke="#d0dc88" stroke-width="0.5"/>
<polygon points="375.25,297.52 387.5,296.4 387.75,296.38 387.96,372.97 387.71,372.98 375.5,373" fill="#78e050" stroke="#78e050" stroke-width="0.5"/>
<polygon points="387.75,296.38 398.1,295.6 399,295.6 399.17,372.46 398.27,372.51 387.96,372.97" fill="#20dc20" stroke="#20dc20" stroke-width="0.5"/>
<polygon points="399,295.6 421.9,295.6 422.25,295.61 422.36,371.24 422.01,371.26 399.17,372.46" fill="#40e860" stroke="#40e860" stroke-width="0.5"/>
<polygon points="422.25,295.61 433.75,296.1 434.5,296.05 434.58,370.48 433.83,370.53 422.36,371.24" fill="#48e870" stroke="#48e870" stroke-width="0.5"/>
<polygon points="434.5,296.05 441.25,295.6 441.4,295.56 441.46,370.05 441.32,370.06 434.58,370.48" fill="#30e040" stroke="#30e040" stroke-width="0.5"/>
<polygon points="441.4,295.56 443.9,294.9 445.1,293.83 445.16,369.03 443.96,369.43 441.46,370.05" fill="#10d810" stroke="#10d810" stroke-width="0.5"/>
<polygon points="445.1,293.83 458.9,281.5 458.94,356.83 445.16,369.03" fill="#38c828" stroke="#38c828" stroke-width="0.5"/>
<polygon points="458.9,281.5 460.75,280.6 461.4,280.6 461.43,354.93 460.78,355.19 458.94,356.83" fill="#20c830" stroke="#20c830" stroke-width="0.5"/>
<polygon points="461.4,280.6 463.9,280.6 463.93,354.53 461.43,354.93" fill="#60d8b8" stroke="#60d8b8" stroke-width="0.5"/>
<polygon points="463.9,280.6 465.75,280.6 465.78,354.24 463.93,354.53" fill="#70e8e0" stroke="#70e8e0" stroke-width="0.5"/>
<polygon points="465.75,280.6 473.9,282.93 473.92,352.97 465.78,354.24" fill="#50f0f0" stroke="#50f0f0" stroke-width="0.5"/>
<polygon points="473.9,282.93 474.5,283.1 486.4,287.46 486.41,352.18 474.52,352.94 473.92,352.97" fill="#08f0f0" stroke="#08f0f0" stroke-width="0.5"/>
<polygon points="486.4,287.46 495.75,290.88 495.75,351.58 486.41,352.18" fill="#08f0f0" stroke="#08f0f0" stroke-width="0.5"/>
<polygon points="495.75,290.88 498.9,292.03 498.9,351.38 495.75,351.58" fill="#38f0f0" stroke="#38f0f0" stroke-width="0.5"/>
<polygon points="498.9,292.03 499.5,292.25 502,292.5 502,350.25 499.5,351.35 498.9,351.38" fill="#50e8e8" stroke="#50e8e8" stroke-width="0.5"/>
<polygon points="502,292.5 507,291.25 507.6,290.68 507.6,347.25 507,347.62 502,350.25" fill="#48d868" stroke="#48d868" stroke-width="0.5"/>
<polygon points="507.6,290.68 513.9,284.75 513.9,342.92 507.6,347.25" fill="#38c828" stroke="#38c828" stroke-width="0.5"/>
<polygon points="513.9,284.75 518.9,284.75 518.9,341.98 513.9,342.92" fill="#60e090" stroke="#60e090" stroke-width="0.5"/>
<polygon points="518.9,284.75 519.5,284.75 526.5,285.9 526.6,285.9 526.6,341.49 526.5,341.5 519.5,341.94 518.9,341.98" fill="#80e4d4" stroke="#80e4d4" stroke-width="0.5"/>
<polygon points="529.1,285.9 560,296.6 633.5,321.75 633.44,346.75 559.98,342.67 529.1,341.25" fill="#44d4cc" stroke="#44d4cc" stroke-width="0.5"/>
<polygon points="633.5,321.75 649,322.72 648.92,347.5 633.44,346.75" fill="#20d020" stroke="#20d020" stroke-width="0.5"/>
<polygon points="649,322.72 649.5,322.75 661.5,320.57 661.39,347.5 649.42,347.5 648.92,347.5" fill="#d0d870" stroke="#d0d870" stroke-width="0.5"/>
<polygon points="661.5,320.57 661.9,320.5 688.5,307.9 688.28,347.5 661.79,347.5 661.39,347.5" fill="#e8e010" stroke="#e8e010" stroke-width="0.5"/>
<polygon points="688.5,307.9 708.1,298.6 708.5,298.43 708.18,346.27 707.78,346.3 688.28,347.5" fill="#f0f010" stroke="#f0f010" stroke-width="0.5"/>
<polygon points="708.5,298.43 717.25,294.6 716.88,345.41 708.18,346.27" fill="#f0f030" stroke="#f0f030" stroke-width="0.5"/>
<polygon points="717.25,294.6 733.5,287.5 733.02,343.8 716.88,345.41" fill="#ecf050" stroke="#ecf050" stroke-width="0.5"/>
<polygon points="733.5,287.5 752,279.25 755.25,277.88 754.61,340.14 751.38,340.86 733.02,343.8" fill="#e8f070" stroke="#e8f070" stroke-width="0.5"/>
<polygon points="755.25,277.88 768,272.5 773,270.77 772.22,336.36 767.26,337.43 754.61,340.14" fill="#e8ec88" stroke="#e8ec88" stroke-width="0.5"/>
<polygon points="773,270.77 794.25,263.4 793.29,332.14 772.22,336.36" fill="#a8e870" stroke="#a8e870" stroke-width="0.5"/>
<polygon points="794.25,263.4 805.5,259.5 804.44,329.68 793.29,332.14" fill="#80e858" stroke="#80e858" stroke-width="0.5"/>
<polygon points="805.5,259.5 859.25,250.7 857.73,322.66 804.44,329.68" fill="#38e828" stroke="#38e828" stroke-width="0.5"/>
<polygon points="859.25,250.7 860.5,250.5 885.5,245.5 883.71,318.97 858.97,322.5 857.73,322.66" fill="#60e848" stroke="#60e848" stroke-width="0.5"/>
<polygon points="885.5,245.5 901.75,240.75 899.74,316.33 883.71,318.97" fill="#80e860" stroke="#80e860" stroke-width="0.5"/>
<polygon points="901.75,240.75 918,235 915.72,313.87 899.74,316.33" fill="#c8ec88" stroke="#c8ec88" stroke-width="0.5"/>
<polygon points="918,235 929.25,233.25 942.25,231.83 939.78,307.92 926.88,311.15 915.72,313.87" fill="#30e048" stroke="#30e048" stroke-width="0.5"/>
<polygon points="942.25,231.83 943,231.75 959.25,230 956.63,304.7 940.53,307.74 939.78,307.92" fill="#38e450" stroke="#38e450" stroke-width="0.5"/>
<polygon points="959.25,230 973,227.5 970.2,302.69 956.63,304.7" fill="#60e840" stroke="#60e840" stroke-width="0.5"/>
<polygon points="973,227.5 981.75,225.75 978.84,301.03 970.2,302.69" fill="#40e030" stroke="#40e030" stroke-width="0.5"/>
<polygon points="981.75,225.75 986.75,223.95 983.75,299.89 978.84,301.03" fill="#28dc20" stroke="#28dc20" stroke-width="0.5"/>
<polygon points="986.75,223.95 990.5,222.6 987.44,298.99 983.75,299.89" fill="#20d818" stroke="#20d818" stroke-width="0.5"/>
<polygon points="990.5,222.6 994.25,221.25 991.12,298.09 987.44,298.99" fill="#28c820" stroke="#28c820" stroke-width="0.5"/>
</g>
<g stroke-opacity="0.75" stroke-width="0.9">
<line x1="22.5" y1="324.42" x2="23.85" y2="356.59" stroke="#5f6b38"/>
<line x1="26.9" y1="324.46" x2="28.28" y2="357.95" stroke="#636f3b"/>
<line x1="35.6" y1="324.52" x2="37.03" y2="360.64" stroke="#65713d"/>
<line x1="47.5" y1="324.61" x2="49.03" y2="365.08" stroke="#687441"/>
<line x1="61.5" y1="324.71" x2="63.09" y2="369.39" stroke="#6e7e47"/>
<line x1="67.5" y1="324.64" x2="69.08" y2="370.27" stroke="#738d4d"/>
<line x1="73.75" y1="324.1" x2="75.31" y2="370.64" stroke="#799a53"/>
<line x1="80.6" y1="323.5" x2="82.15" y2="370.99" stroke="#7ca354"/>
<line x1="116.25" y1="319.4" x2="117.64" y2="370.29" stroke="#81a956"/>
<line x1="175.75" y1="309.38" x2="176.91" y2="367.96" stroke="#4ea738"/>
<line x1="223.25" y1="307.22" x2="224.12" y2="367.02" stroke="#2ba321"/>
<line x1="257.2" y1="305.93" x2="257.9" y2="367.54" stroke="#41a12d"/>
<line x1="280.25" y1="304.61" x2="280.85" y2="367.97" stroke="#469d2f"/>
<line x1="296" y1="303.7" x2="296.53" y2="368.29" stroke="#56983b"/>
<line x1="341" y1="301.95" x2="341.36" y2="372.02" stroke="#799853"/>
<line x1="364" y1="298.87" x2="364.28" y2="373" stroke="#949e62"/>
<line x1="375.25" y1="297.52" x2="375.5" y2="373" stroke="#79a450"/>
<line x1="387.75" y1="296.38" x2="387.96" y2="372.97" stroke="#38a429"/>
<line x1="399" y1="295.6" x2="399.17" y2="372.46" stroke="#24a72f"/>
<line x1="422.25" y1="295.61" x2="422.36" y2="371.24" stroke="#32ac4d"/>
<line x1="434.5" y1="296.05" x2="434.58" y2="370.48" stroke="#2ca941"/>
<line x1="441.4" y1="295.56" x2="441.46" y2="370.05" stroke="#18a31e"/>
<line x1="445.1" y1="293.83" x2="445.16" y2="369.03" stroke="#1b9a15"/>
<line x1="458.9" y1="281.5" x2="458.94" y2="356.83" stroke="#219421"/>
<line x1="461.4" y1="280.6" x2="461.43" y2="354.93" stroke="#2f9a56"/>
<line x1="463.9" y1="280.6" x2="463.93" y2="354.53" stroke="#4da697"/>
<line x1="465.75" y1="280.6" x2="465.78" y2="354.24" stroke="#47afac"/>
<line x1="473.9" y1="282.93" x2="473.92" y2="352.97" stroke="#21b2b2"/>
<line x1="486.4" y1="287.46" x2="486.41" y2="352.18" stroke="#06b2b2"/>
<line x1="495.75" y1="290.88" x2="495.75" y2="351.58" stroke="#18b2b2"/>
<line x1="498.9" y1="292.03" x2="498.9" y2="351.38" stroke="#32afaf"/>
<line x1="502" y1="292.5" x2="502" y2="350.25" stroke="#38a67c"/>
<line x1="507.6" y1="290.68" x2="507.6" y2="347.25" stroke="#2f9a35"/>
<line x1="513.9" y1="284.75" x2="513.9" y2="342.92" stroke="#389d44"/>
<line x1="518.9" y1="284.75" x2="518.9" y2="341.98" stroke="#53a784"/>
<line x1="633.5" y1="321.75" x2="633.44" y2="346.75" stroke="#259b57"/>
<line x1="649" y1="322.72" x2="648.92" y2="347.5" stroke="#599d35"/>
<line x1="661.5" y1="320.57" x2="661.39" y2="347.5" stroke="#a3a32f"/>
<line x1="688.5" y1="307.9" x2="688.28" y2="347.5" stroke="#afac0c"/>
<line x1="708.5" y1="298.43" x2="708.18" y2="346.27" stroke="#b2b218"/>
<line x1="717.25" y1="294.6" x2="716.88" y2="345.41" stroke="#b0b22f"/>
<line x1="733.5" y1="287.5" x2="733.02" y2="343.8" stroke="#adb247"/>
<line x1="755.25" y1="277.88" x2="754.61" y2="340.14" stroke="#acb05c"/>
<line x1="773" y1="270.77" x2="772.22" y2="336.36" stroke="#94ad5c"/>
<line x1="794.25" y1="263.4" x2="793.29" y2="332.14" stroke="#6eac4a"/>
<line x1="805.5" y1="259.5" x2="804.44" y2="329.68" stroke="#44ac2f"/>
<line x1="859.25" y1="250.7" x2="857.73" y2="322.66" stroke="#38ac29"/>
<line x1="885.5" y1="245.5" x2="883.71" y2="318.97" stroke="#53ac3e"/>
<line x1="901.75" y1="240.75" x2="899.74" y2="316.33" stroke="#79ad56"/>
<line x1="918" y1="235" x2="915.72" y2="313.87" stroke="#5caa4d"/>
<line x1="942.25" y1="231.83" x2="939.78" y2="307.92" stroke="#26a738"/>
<line x1="959.25" y1="230" x2="956.63" y2="304.7" stroke="#38aa35"/>
<line x1="973" y1="227.5" x2="970.2" y2="302.69" stroke="#3ba929"/>
<line x1="981.75" y1="225.75" x2="978.84" y2="301.03" stroke="#26a41e"/>
<line x1="986.75" y1="223.95" x2="983.75" y2="299.89" stroke="#1ba115"/>
<line x1="990.5" y1="222.6" x2="987.44" y2="298.99" stroke="#1b9a15"/>
</g>
<polyline points="19.4,324.4 66.25,324.75 80.6,323.5 116.25,319.4 175.4,309.4 208,307.5 222.5,307.25 256,306 296,303.7 340.6,302 363.75,298.9 374.4,297.6 387.5,296.4 398.1,295.6 421.9,295.6 433.75,296.1 441.25,295.6 443.9,294.9 458.9,281.5 460.75,280.6 465.75,280.6 474.5,283.1 499.5,292.25 502,292.5 507,291.25 513.9,284.75 519.5,284.75 526.5,285.9" fill="none" stroke="#3c3c3c" stroke-width="1.4" stroke-linejoin="round"/>
<polyline points="529.1,285.9 560,296.6 633.5,321.75 649.5,322.75 661.9,320.5 688.5,307.9 708.1,298.6 733.5,287.5 752,279.25 768,272.5 805.5,259.5 860.5,250.5 885.5,245.5 901.75,240.75 918,235 929.25,233.25 943,231.75 959.25,230 973,227.5 981.75,225.75 994.25,221.25" fill="none" stroke="#3c3c3c" stroke-width="1.4" stroke-linejoin="round"/>
<g id="logo">
<polygon points="4.9,469.7 16.4,469.7 23.8,483.95 31.2,469.7 42.7,469.7 25.2,503.4 22.4,503.4" fill="#000"/>
<path d="M67.38,496.89 A17.6,17.6 0 1 1 70.42,489.7 L46,489.7 A8.5,8.5 0 0 0 61.7,491.1 Z M46.1,483.7 A7,6 0 0 1 60.1,483.7 Z" fill="#000" fill-rule="evenodd"/>
<rect x="69.1" y="455.8" width="11.3" height="47.6" fill="#000"/>
<path d="M98.5,469 a18,17.6 0 1 0 0.01,0 Z M98.7,478.8 a7.85,7.8 0 1 1 -0.01,0 Z" fill="#000" fill-rule="evenodd"/>
<polygon points="107.6,469.7 119.1,469.7 126.5,483.95 127.9,503.4 125.1,503.4" fill="#fff" transform="translate(-1.3,0)"/>
<polygon points="107.6,469.7 119.1,469.7 126.5,483.95 133.9,469.7 145.4,469.7 127.9,503.4 125.1,503.4" fill="#ff0534"/>
<rect x="143.2" y="469.7" width="11.5" height="33.7" fill="#ff0534"/>
<circle cx="149" cy="461.3" r="5.8" fill="#ff0534"/>
<path d="M186.58,496.89 A17.6,17.6 0 1 1 189.62,489.7 L165.2,489.7 A8.5,8.5 0 0 0 180.9,491.1 Z M165.3,483.7 A7,6 0 0 1 179.3,483.7 Z" fill="#ff0534" fill-rule="evenodd"/>
<polygon points="182.7,469.7 194.3,469.7 199.4,484.8 203,469.7 213.7,469.7 219.6,484.8 224,469.7 234.9,469.7 225.1,503.6 214.4,503.6 209.1,487 203.5,503.6 192.9,503.6" fill="#ff0534"/>
<path d="M262.68,496.89 A17.6,17.6 0 1 1 265.72,489.7 L241.3,489.7 A8.5,8.5 0 0 0 257,491.1 Z M241.4,483.7 A7,6 0 0 1 255.4,483.7 Z" fill="#ff0534" fill-rule="evenodd"/>
<path d="M263.1,469.7 H274.6 V473 C276.5,470.5 280,469 285,469.2 V480.7 C280,480.5 276,482.5 274.6,486 V503.4 H263.1 Z" fill="#ff0534"/>
<text transform="translate(305.5,476.8) scale(0.86,1)" font-family="Liberation Sans, sans-serif" font-weight="normal" font-size="10" textLength="79.6" lengthAdjust="spacing" fill="#1a1a1a" stroke="#1a1a1a" stroke-width="0.6">POWERED BY</text>
<text x="304.6" y="503.5" font-family="Liberation Sans, sans-serif" font-weight="bold" font-size="27" textLength="55.5" lengthAdjust="spacingAndGlyphs" fill="#fc4c02" stroke="#fc4c02" stroke-width="0.9">STR</text>
<polygon points="359.4,503.4 369.6,483.2 379.4,503.4 373.4,503.4 369.6,494.9 365.7,503.4" fill="#fc4c02"/>
<polygon points="373.4,484.1 379.5,484.1 383.6,492.6 387.7,484.1 394.2,484.1 383.8,504.3" fill="#fc4c02"/>
<polygon points="388.4,503.4 398.6,483.2 408.4,503.4 402.4,503.4 398.6,494.9 394.7,503.4" fill="#fc4c02"/>
</g>
</svg>
<div id="title">Blenheim Triathlon Bike Lap</div>
<div id="stat">6.5 km at 0.0%</div>
<div class="lg" style="top:369px">25%</div>
<div class="lg" style="top:407.5px">10%</div>
<div class="lg" style="top:433px">0%</div>
<div class="lg" style="top:458.5px">-10%</div>
<div class="lg" style="top:497px">(Grid: 1 km) -25%</div>
<div id="bar"></div>
</body>
</html>
